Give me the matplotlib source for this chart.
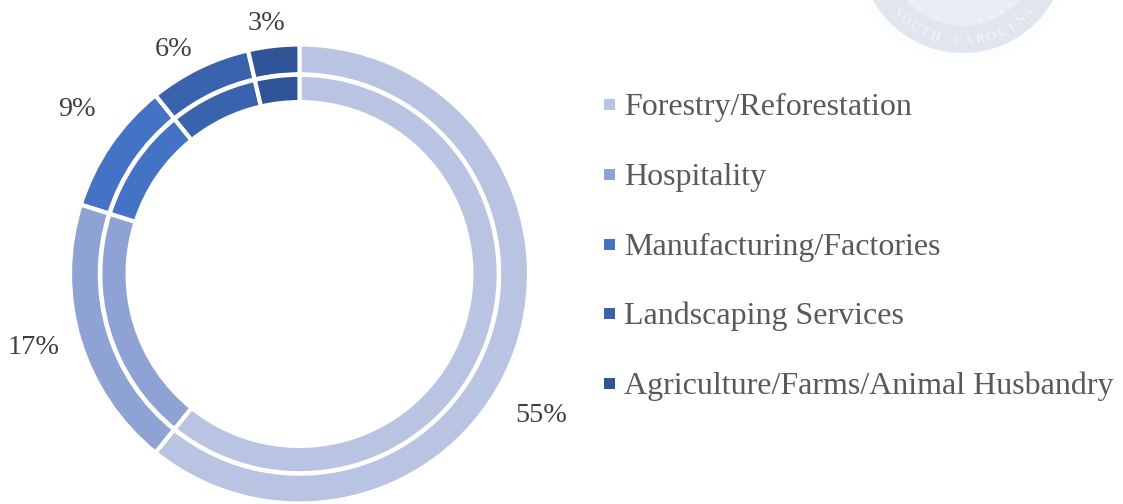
import numpy as np
import matplotlib
matplotlib.use("Agg")
import matplotlib.pyplot as plt
from matplotlib.patches import Circle, Rectangle

categories = ["Forestry/Reforestation", "Hospitality", "Manufacturing/Factories",
              "Landscaping Services", "Agriculture/Farms/Animal Husbandry"]
# arc shares (the printed labels do not add up to 100)
outer_values = [60.8, 19.1, 9.3, 7.2, 3.6]
inner_values = [60.8, 19.1, 9.3, 7.2, 3.6]
value_labels = ["55%", "17%", "9%", "6%", "3%"]
colors = ["#B9C3E2", "#8FA2D4", "#4472C4", "#3A63AD", "#2F5597"]
seal_text = "SOUTH CAROLINA"

W, H = 1123, 504
plt.rcParams['font.family'] = ['Liberation Serif', 'DejaVu Serif']
fig = plt.figure(figsize=(W/100, H/100), dpi=100)

bg = fig.add_axes([0, 0, 1, 1])
bg.set_xlim(0, W); bg.set_ylim(H, 0); bg.axis('off')

# faded seal in the top right corner
sx, sy = 963, -50
bg.add_patch(Circle((sx, sy), 112, fc='#FCFDFD', ec='none'))
bg.add_patch(Circle((sx, sy), 103, fc='#E0E5EE', ec='none'))
bg.add_patch(Circle((sx, sy), 76, fc='#E9EDF4', ec='none'))
for a in np.arange(-62, 63, 8.5):
    bg.add_patch(Circle((sx + 72*np.sin(np.radians(a)), sy + 72*np.cos(np.radians(a))),
                        1.2, fc='#F7F9FB', ec='none'))
n = len(seal_text)
for i, ch in enumerate(seal_text):
    t = (i - (n - 1) / 2) * 7.2
    bg.text(sx + 91*np.sin(np.radians(t)), sy + 91*np.cos(np.radians(t)), ch,
            ha='center', va='center', fontsize=9.5, color='#F5F7FA', rotation=t)

cx, cy, R = 299.5, 274, 229.5
ax = fig.add_axes([(cx-R)/W, 1-(cy+R)/H, 2*R/W, 2*R/H])
wp = dict(edgecolor='white', linewidth=3)
ax.pie(outer_values, radius=1.0, colors=colors, startangle=90, counterclock=False,
       wedgeprops=dict(width=0.13, **wp))
ax.pie(inner_values, radius=0.868, colors=colors, startangle=90, counterclock=False,
       wedgeprops=dict(width=0.119, **wp))
ax.set_xlim(-1, 1); ax.set_ylim(-1, 1)

label_pos = [(541, 416), (34, 347), (77, 110), (174, 49), (266, 23)]
for txt, (x, y) in zip(value_labels, label_pos):
    bg.text(x, y, txt, ha='center', va='center', fontsize=20.3, color='#404040')

leg_y = [104, 174, 244, 313, 383]
for name, col, y in zip(categories, colors, leg_y):
    bg.add_patch(Rectangle((604, y-5), 11, 11, fc=col, ec='none'))
    bg.text(624, y+3, name, ha='left', va='center', fontsize=23, color='#595959')

fig.savefig("out.png", dpi=100)
